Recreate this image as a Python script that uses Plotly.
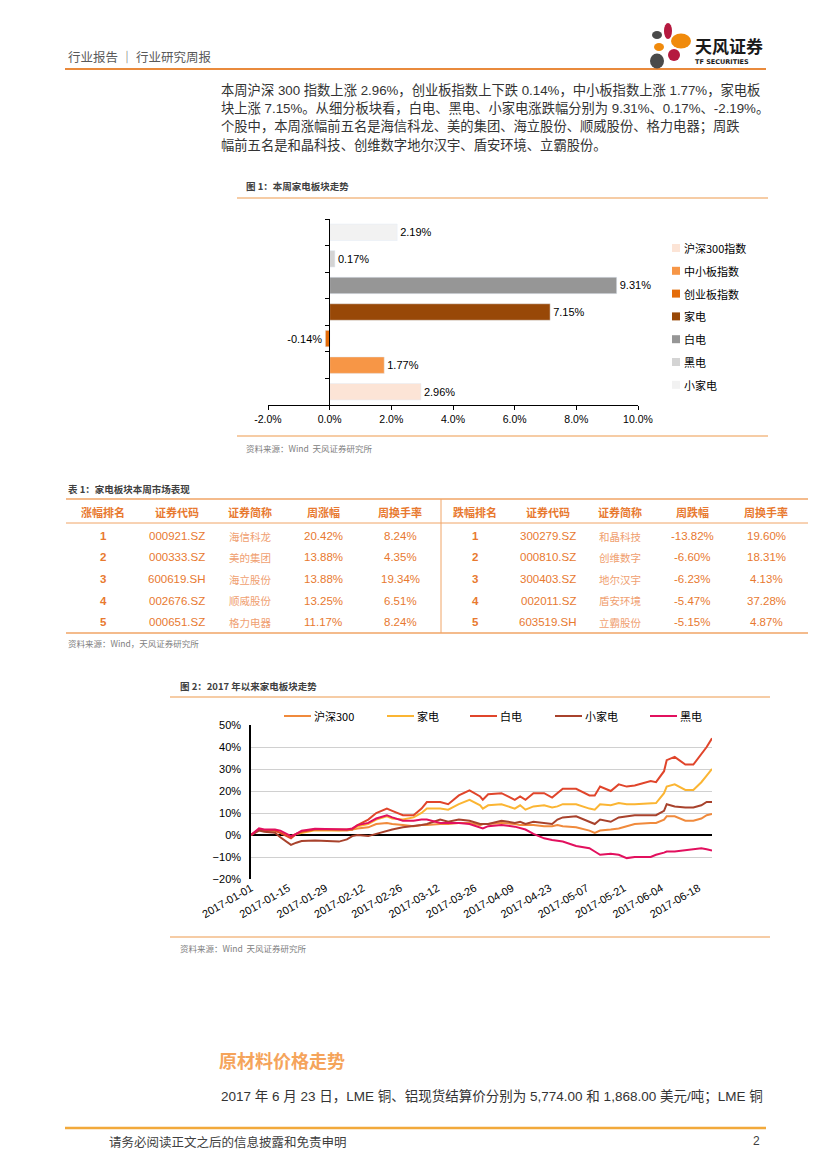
import plotly.graph_objects as go

# The page body adds an 8px margin, so the figure is drawn 8px smaller and
# every page coordinate is shifted by that offset.
OFF = 8
W, H = 827 - OFF, 1169 - OFF


def X(px):
    return (px - OFF) / W


def Y(py):
    return 1 - (py - OFF) / H


# ---------------- Figure 1 data ----------------
bar_categories = ["沪深300指数", "中小板指数", "创业板指数", "家电", "白电", "黑电", "小家电"]
bar_values = [2.96, 1.77, -0.14, 7.15, 9.31, 0.17, 2.19]
bar_colors = ["#FCE4D6", "#F79646", "#E46C0A", "#984807", "#969696", "#D4D4D4", "#F2F2F2"]
bar_ticks = [-2, 0, 2, 4, 6, 8, 10]

# ---------------- Table data ----------------
left_headers = ["涨幅排名", "证券代码", "证券简称", "周涨幅", "周换手率"]
right_headers = ["跌幅排名", "证券代码", "证券简称", "周跌幅", "周换手率"]
rise_rank = ["1", "2", "3", "4", "5"]
rise_code = ["000921.SZ", "000333.SZ", "600619.SH", "002676.SZ", "000651.SZ"]
rise_name = ["海信科龙", "美的集团", "海立股份", "顺威股份", "格力电器"]
rise_pct = ["20.42%", "13.88%", "13.88%", "13.25%", "11.17%"]
rise_turn = ["8.24%", "4.35%", "19.34%", "6.51%", "8.24%"]
fall_rank = ["1", "2", "3", "4", "5"]
fall_code = ["300279.SZ", "000810.SZ", "300403.SZ", "002011.SZ", "603519.SH"]
fall_name = ["和晶科技", "创维数字", "地尔汉宇", "盾安环境", "立霸股份"]
fall_pct = ["-13.82%", "-6.60%", "-6.23%", "-5.47%", "-5.15%"]
fall_turn = ["19.60%", "18.31%", "4.13%", "37.28%", "4.87%"]

# ---------------- Figure 2 data ----------------
dates = ["2017-01-01", "2017-01-04", "2017-01-06", "2017-01-10", "2017-01-12", "2017-01-16",
         "2017-01-18", "2017-01-20", "2017-01-25", "2017-02-03", "2017-02-06", "2017-02-08",
         "2017-02-10", "2017-02-14", "2017-02-17", "2017-02-21", "2017-02-23", "2017-02-27",
         "2017-03-03", "2017-03-06", "2017-03-08", "2017-03-13", "2017-03-16", "2017-03-20",
         "2017-03-24", "2017-03-28", "2017-03-29", "2017-03-31", "2017-04-05", "2017-04-10",
         "2017-04-12", "2017-04-14", "2017-04-17", "2017-04-21", "2017-04-24", "2017-04-26",
         "2017-04-28", "2017-05-03", "2017-05-08", "2017-05-10", "2017-05-12", "2017-05-16",
         "2017-05-19", "2017-05-22", "2017-05-25", "2017-05-31", "2017-06-02", "2017-06-05",
         "2017-06-06", "2017-06-09", "2017-06-13", "2017-06-16", "2017-06-19", "2017-06-21",
         "2017-06-23"]
hs300 = [0, 2.5, 2, 2, 1, -1, 0.5, 1.5, 2.5, 2, 2, 2.5,
         3, 3.5, 5, 5.5, 5, 4.5, 4, 4.5, 4.5, 5, 5, 5.5,
         5.5, 4.5, 5, 5, 5.5, 5, 4.5, 4.5, 4.5, 4, 4, 4.5,
         4, 3.5, 2, 1, 2, 2.5, 3, 4, 5, 5.5, 5.5, 7,
         8.5, 8.5, 6.5, 6.5, 7.5, 9, 9.5]
jiadian = [0, 2.5, 2, 2, 1, -0.5, 0.5, 1, 2.2, 2, 2.5, 2.5,
           4, 5, 7, 8.5, 7.5, 7, 8, 10, 12, 12, 11.5, 14,
           16, 13.5, 12, 13.5, 14, 12, 13.5, 11.5, 13, 13.5, 12.5, 13,
           14, 14, 12, 11.5, 14, 13.5, 14.5, 14, 14, 14.5, 14.5, 19,
           22, 23, 20.5, 20.5, 24, 27, 30]
baidian = [0, 2.5, 2, 2, 1, -1.5, 0.5, 1.5, 2.5, 2.5, 2.5, 2.5,
           4.5, 7, 10, 12, 11, 9, 9, 12, 15, 15, 14, 18,
           20.3, 17.5, 16, 18.5, 19, 16, 17.5, 16, 19, 19, 17, 19,
           21, 21, 18, 18, 22, 20, 23, 22, 22.5, 24.5, 24, 29,
           34, 35.5, 32, 32, 37, 40, 44]
xiaojiadian = [0, 2, 1.5, 1, -1, -4.5, -3.5, -2.7, -2.5, -3, -2, -0.5,
               0, -0.5, 0.5, 2, 2.5, 3.5, 4, 4.5, 5, 7, 6, 7,
               6.5, 5, 5, 5, 6.5, 5.5, 6, 5, 6, 5.5, 5, 7,
               8, 8.5, 6, 5, 7, 6, 8, 8.5, 9, 9, 9, 11,
               14, 13, 12.5, 12.5, 13.5, 15, 15]
heidian = [0, 3, 2.5, 2.5, 2, -0.5, 0.5, 2, 2.8, 2.5, 2.5, 3,
           4.5, 5.5, 7.5, 9, 8, 6.5, 6.5, 7, 7, 5.5, 5.5, 5.5,
           5, 3.5, 3, 4, 4.5, 3.8, 3, 2.5, 0.5, -1.5, -2.3, -2.5,
           -3, -5, -6, -7.5, -9, -8.5, -9, -10.5, -10, -10, -9, -8,
           -7.5, -7.5, -7, -6.5, -6, -6.5, -7]
line_names = ["沪深300", "家电", "白电", "小家电", "黑电"]
line_series = [hs300, jiadian, baidian, xiaojiadian, heidian]
line_colors = ["#F08A3C", "#FBB533", "#E0452B", "#A8422C", "#E2105E"]

CJK = "Noto Sans CJK SC"
LAT = "Liberation Sans, Noto Sans CJK SC"
TXT = "#404040"
ORANGE_LINE = "#EE9A4D"
TABLE_ORANGE = "#E8792F"

fig = go.Figure()

# ---- bar traces ----
for cat, val, col in zip(bar_categories, bar_values, bar_colors):
    fig.add_trace(go.Bar(
        y=[cat], x=[val], orientation="h", name=cat, marker_color=col,
        text=[f"{val:.2f}%"], textposition="outside", cliponaxis=False,
        constraintext="none", textfont=dict(family=LAT, size=11, color="#000000"),
        xaxis="x", yaxis="y", hoverinfo="skip", showlegend=False))

# ---- line traces ----
for name, vals, col in zip(line_names, line_series, line_colors):
    fig.add_trace(go.Scatter(
        x=dates, y=vals, mode="lines", name=name,
        line=dict(color=col, width=2), xaxis="x2", yaxis="y2",
        hoverinfo="skip", showlegend=False))

shapes = []


def hline(y, x0, x1, color=ORANGE_LINE, width=1):
    shapes.append(dict(type="line", xref="paper", yref="paper", x0=X(x0), x1=X(x1),
                       y0=Y(y), y1=Y(y), line=dict(color=color, width=width)))


def vline(x, y0, y1, color=ORANGE_LINE, width=1):
    shapes.append(dict(type="line", xref="paper", yref="paper", x0=X(x), x1=X(x),
                       y0=Y(y0), y1=Y(y1), line=dict(color=color, width=width)))


def ellipse(cx, cy, rx, ry, color):
    shapes.append(dict(type="circle", xref="paper", yref="paper", x0=X(cx - rx), x1=X(cx + rx),
                       y0=Y(cy + ry), y1=Y(cy - ry), fillcolor=color, line=dict(width=0)))


def rect(x0, y0, x1, y1, color):
    shapes.append(dict(type="rect", xref="paper", yref="paper", x0=X(x0), x1=X(x1),
                       y0=Y(y1), y1=Y(y0), fillcolor=color, line=dict(width=0)))


# header line
hline(69, 65, 766, color="#E98A3C", width=2.2)
# logo petals
ellipse(657, 35, 5, 4, "#4A4A4A")
ellipse(668, 31, 4, 8, "#B5193F")
ellipse(681, 41, 10, 7.5, "#F08A0C")
ellipse(659, 47, 5, 4, "#F08A0C")
ellipse(674, 55, 6, 6, "#B5193F")
ellipse(657, 61, 7, 7.5, "#4A4A4A")

# figure 1 lines
hline(198, 237, 768, width=1.2)
hline(436, 237, 768, width=1.2)
# table lines
hline(499, 66, 808, color="#F0A466", width=1.6)
hline(523, 66, 808, color="#F0A466", width=1)
hline(633, 66, 808, color="#F0A466", width=1.6)
vline(441, 499, 633, color="#F0A466", width=1)
# figure 2 lines
hline(697, 170, 770, width=1.2)
hline(937, 170, 770, width=1.2)
# footer line
hline(1128, 65, 766, color="#F2A93B", width=2.5)

ann = []


def text(x, y, s, size=12, color=TXT, family=CJK, anchor="left", bold=False):
    if bold:
        s = f"<b>{s}</b>"
    ann.append(dict(x=X(x), y=Y(y), xref="paper", yref="paper", text=s, showarrow=False,
                    xanchor=anchor, yanchor="middle", font=dict(size=size, color=color, family=family)))


# legend of figure 1 (top-to-bottom order as in reference)
for i, (cat, col) in enumerate(zip(bar_categories, bar_colors)):
    yy = 248 + 22.8 * i
    rect(672, yy - 4, 680, yy + 4, col)
    text(682, yy, cat, size=11, color="#000000")

# legend of figure 2
legend2_x = [284, 387, 470, 555, 650]
for lx, name, col in zip(legend2_x, line_names, line_colors):
    hline(716, lx, lx + 27, color=col, width=2)
    text(lx + 28, 716, name, size=11, color="#000000")

# header
text(66, 57, "行业报告 ｜ 行业研究周报", size=12.5, color="#595959")
text(693, 46, "天风证券", size=17, color="#1A1A1A", bold=True)
text(693, 62, "TF SECURITIES", size=6.5, color="#1A1A1A", family="DejaVu Sans", bold=True)

# paragraph
para = [
    "本周沪深 300 指数上涨 2.96%，创业板指数上下跌 0.14%，中小板指数上涨 1.77%，家电板",
    "块上涨 7.15%。从细分板块看，白电、黑电、小家电涨跌幅分别为 9.31%、0.17%、-2.19%。",
    "个股中，本周涨幅前五名是海信科龙、美的集团、海立股份、顺威股份、格力电器；周跌",
    "幅前五名是和晶科技、创维数字地尔汉宇、盾安环境、立霸股份。",
]
for i, line in enumerate(para):
    text(219, 90 + i * 18.4, line, size=13.3, color="#333333", family=LAT)

# figure 1 title / source
text(244, 186, "图 1：本周家电板块走势", size=9.5, color="#404040", bold=True)
text(244, 448, "资料来源：Wind  天风证券研究所", size=8.5, color="#808080")

# table
text(66, 489, "表 1：家电板块本周市场表现", size=9.5, color="#404040", bold=True)
left_cx = [103, 177, 250, 323, 400]
right_cx = [475, 548, 620, 692, 766]
row_y = [536, 557.5, 579, 600.5, 622]
for cx, h in zip(left_cx, left_headers):
    text(cx, 512, h, size=11, color=TABLE_ORANGE, anchor="center", bold=True)
for cx, h in zip(right_cx, right_headers):
    text(cx, 512, h, size=11, color=TABLE_ORANGE, anchor="center", bold=True)
for i in range(5):
    y = row_y[i]
    text(left_cx[0], y, rise_rank[i], size=11.5, color=TABLE_ORANGE, family=LAT, anchor="center", bold=True)
    text(left_cx[1], y, rise_code[i], size=11.5, color=TABLE_ORANGE, family=LAT, anchor="center")
    text(left_cx[2], y, rise_name[i], size=10.5, color="#F0A070", anchor="center")
    text(left_cx[3], y, rise_pct[i], size=11.5, color=TABLE_ORANGE, family=LAT, anchor="center")
    text(left_cx[4], y, rise_turn[i], size=11.5, color=TABLE_ORANGE, family=LAT, anchor="center")
    text(right_cx[0], y, fall_rank[i], size=11.5, color=TABLE_ORANGE, family=LAT, anchor="center", bold=True)
    text(right_cx[1], y, fall_code[i], size=11.5, color=TABLE_ORANGE, family=LAT, anchor="center")
    text(right_cx[2], y, fall_name[i], size=10.5, color="#F0A070", anchor="center")
    text(right_cx[3], y, fall_pct[i], size=11.5, color=TABLE_ORANGE, family=LAT, anchor="center")
    text(right_cx[4], y, fall_turn[i], size=11.5, color=TABLE_ORANGE, family=LAT, anchor="center")
text(66, 643, "资料来源：Wind，天风证券研究所", size=8.5, color="#808080")

# figure 2 title / source
text(178, 686, "图 2：2017 年以来家电板块走势", size=9.5, color="#404040", bold=True)
text(178, 948, "资料来源：Wind  天风证券研究所", size=8.5, color="#808080")

# section heading & paragraph
text(217, 1060, "原材料价格走势", size=18, color="#F5A45B", bold=True)
text(219, 1096, "2017 年 6 月 23 日，LME 铜、铝现货结算价分别为 5,774.00 和 1,868.00 美元/吨；LME 铜",
     size=13.5, color="#333333", family=LAT)

# footer
text(107, 1141, "请务必阅读正文之后的信息披露和免责申明", size=12.5, color="#404040")
text(762, 1141, "2", size=12, color="#404040", family=LAT, anchor="right")

fig.update_layout(
    width=W, height=H, margin=dict(l=0, r=0, t=0, b=0, autoexpand=False),
    paper_bgcolor="white", plot_bgcolor="rgba(0,0,0,0)",
    barmode="overlay", bargap=0.38, showlegend=False,
    shapes=shapes, annotations=ann,
    font=dict(family=LAT, color="#000000"),
    xaxis=dict(domain=[X(268), X(638)], range=[-2, 10], tickvals=bar_ticks,
               ticktext=[f"{v:.1f}%" for v in bar_ticks], showline=True, linecolor="#000000",
               linewidth=1, ticks="outside", ticklen=4, tickcolor="#000000", showgrid=False,
               zeroline=False, tickfont=dict(size=10.5, family=LAT, color="#000000"), anchor="y",
               automargin=False),
    yaxis=dict(domain=[Y(405), Y(219)], type="category", categoryorder="array",
               categoryarray=bar_categories, anchor="free", position=X(329), showline=True,
               linecolor="#000000", linewidth=1, ticks="outside", tickson="boundaries",
               ticklen=4, tickcolor="#000000", showticklabels=False, showgrid=False,
               zeroline=False, automargin=False),
    xaxis2=dict(domain=[X(251), X(712)], type="date", range=["2017-01-01", "2017-06-23"],
                tick0="2017-01-01", dtick=14 * 86400000, tickformat="%Y-%m-%d", tickangle=-30,
                tickfont=dict(size=11, family=LAT, color="#000000"), showgrid=False, showline=False,
                zeroline=False, ticks="", anchor="y2", automargin=False),
    yaxis2=dict(domain=[Y(879), Y(725)], range=[-20, 50], dtick=10, ticksuffix="%",
                showgrid=True, gridcolor="#D0D0D0", gridwidth=1, zeroline=True,
                zerolinecolor="#000000", zerolinewidth=1.5, showline=True, linecolor="#000000",
                linewidth=1.5, tickfont=dict(size=11, family=LAT, color="#000000"), anchor="x2",
                ticks="", automargin=False, ticklabelstandoff=6),
)

fig.write_html("out.html")
